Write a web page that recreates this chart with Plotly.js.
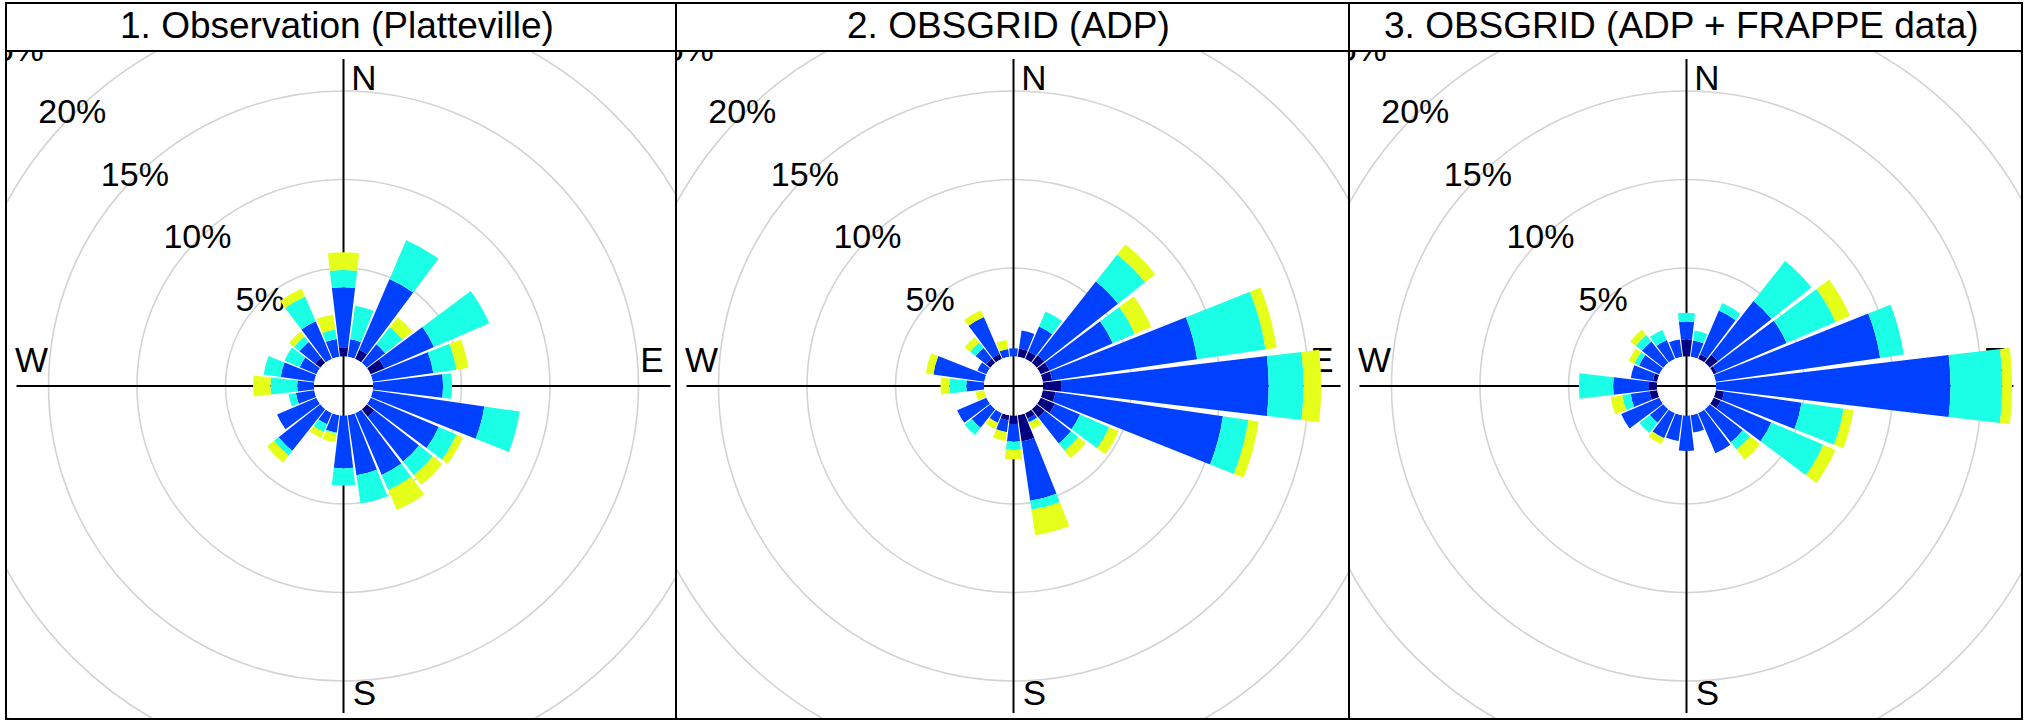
<!DOCTYPE html>
<html>
<head>
<meta charset="utf-8">
<script src="https://cdn.plot.ly/plotly-3.0.1.min.js"></script>
<style>
html,body{margin:0;padding:0;background:#fff;overflow:hidden}
#chart{width:2028px;height:723px}
</style>
</head>
<body>
<div id="chart"></div>
<script>
// ---------------- data ----------------
const DIRECTIONS = [0,15,30,45,60,75,90,105,120,135,150,165,180,195,210,225,240,255,270,285,300,315,330,345];
const PANEL_TITLES = ['1. Observation (Platteville)', '2. OBSGRID (ADP)', '3. OBSGRID (ADP + FRAPPE data)'];
const RING_PERCENTS = [5, 10, 15, 20, 25];
const RING_LABELS = ['5%', '10%', '15%', '20%', '25%'];
const COMPASS_LABELS = ['N', 'E', 'S', 'W'];
const SPEED_CLASS_NAMES = ['class 1', 'class 2', 'class 3', 'class 4'];
const SPEED_COLORS = ['#000080', '#0040ff', '#1affe5', '#e5ff1a'];

// frequency (%) per direction, per speed class
const P1_CLASS1 = [0.50,0,0.57,0,0.85,0,0,0,0,0.54,0,0,0,0,0,0,0,0,0,0,0,0.37,0,0];
const P1_CLASS2 = [3.41,1.00,4.35,1.33,3.05,3.46,3.96,6.37,4.19,3.23,3.80,3.43,2.98,1.00,0.69,3.00,2.42,1.05,0.95,1.92,1.03,1.13,2.31,1.02];
const P1_CLASS3 = [0.98,1.91,2.38,1.25,3.40,1.32,0.51,2.02,1.09,0.98,0.93,1.61,0.98,0.05,0.47,0.34,0,0.42,1.51,0.97,0.93,0.40,1.53,0.54];
const P1_CLASS4 = [1.00,0,0,0.72,0,0.69,0,0,0.40,0.70,1.23,0,0,0.50,0.37,0.51,0,0,0.98,0,0,0.36,0.49,0.86];

const P2_CLASS1 = [0,0.48,0.46,0.54,0.55,0.54,1.03,0.73,0.88,0.60,0.35,1.50,0.48,0.30,0,0,0,0,0,0,0,0.31,0.30,0];
const P2_CLASS2 = [0.46,1.02,1.53,5.31,3.89,8.28,11.72,9.56,1.54,1.87,0.20,3.39,1.00,0.67,0.59,1.34,1.80,0,1.00,2.91,0.55,0.75,2.28,0.45];
const P2_CLASS3 = [0,0,0.92,1.95,1.35,3.90,1.97,1.45,1.80,0.52,0.05,0.50,0.47,0,0,0.51,0,0,0.95,0,0,0.40,0,0];
const P2_CLASS4 = [0,0,0,0.74,1.02,0.64,1.00,0.59,0.59,0.54,0.40,1.46,0.52,0.50,0.38,0,0,0.50,0.51,0.43,0,0.40,0.41,0.51];

const P3_CLASS1 = [0.97,0,0.29,0.59,0.20,0,0,0.48,0.44,0,0,0,0,0,0,0,0,0.44,0.46,0.25,0,0,0,0];
const P3_CLASS2 = [1.00,0.93,2.68,3.86,4.29,9.39,13.25,4.42,3.11,2.38,2.47,0.99,2.00,1.47,1.54,0.97,2.35,1.08,2.02,1.26,1.25,1.54,1.16,0.99];
const P3_CLASS3 = [0.50,0.57,0.46,2.87,3.01,1.35,2.92,2.40,3.20,0.53,0,0,0,0,0,0.75,0,0.48,1.94,0,0.29,0.46,0.62,0];
const P3_CLASS4 = [0,0,0,0,0.89,0,0.56,0.56,0.74,0.73,0,0,0,0,0.37,0,0,0.67,0,0,0.36,0.40,0,0];

const PANEL_DATA = [
  [P1_CLASS1, P1_CLASS2, P1_CLASS3, P1_CLASS4],
  [P2_CLASS1, P2_CLASS2, P2_CLASS3, P2_CLASS4],
  [P3_CLASS1, P3_CLASS2, P3_CLASS3, P3_CLASS4]
];

// ---------------- geometry / style ----------------
const W = 2028, H = 723;
const EDGES = [6, 676, 1349, 2022];
const TOP = 3, TITLE_BOTTOM = 51, BOTTOM = 719, CY = 386;
const HOLE_PX = 29.5, PX_PER_PCT = 17.7, AXIS_PX = 327, POLAR_PX = 336;
const FONT = 'Liberation Sans, Arial, Helvetica, sans-serif';
const BAR_WIDTH_DEG = 13.5;

const ringRadius = p => HOLE_PX + PX_PER_PCT * p;
const compassOffsets = {N: [20.5, 305], E: [308.5, 22.5], S: [21, -310.5], W: [-312, 22.5]};

const data = [];
const shapes = [];
const annotations = [];
const layout = {
  width: W, height: H,
  margin: {l: 0, r: 0, t: 0, b: 0, pad: 0},
  paper_bgcolor: '#ffffff',
  plot_bgcolor: 'rgba(0,0,0,0)',
  showlegend: false,
  font: {family: FONT, color: '#000'}
};

PANEL_DATA.forEach((classes, i) => {
  const n = i + 1;
  const sfx = i === 0 ? '' : String(n);
  const L = EDGES[i], R = EDGES[i + 1];
  const cx = L + 337.5;

  // cartesian frame used for the grid rings, cross lines and labels
  layout['xaxis' + sfx] = {
    domain: [L / W, R / W], range: [L - cx, R - cx], visible: false,
    fixedrange: true, anchor: 'y' + sfx
  };
  layout['yaxis' + sfx] = {
    domain: [(H - BOTTOM) / H, (H - TITLE_BOTTOM) / H], range: [CY - BOTTOM, CY - TITLE_BOTTOM],
    visible: false, fixedrange: true, anchor: 'x' + sfx
  };

  RING_PERCENTS.forEach(p => {
    const r = ringRadius(p);
    shapes.push({type: 'circle', xref: 'x' + sfx, yref: 'y' + sfx, x0: -r, x1: r, y0: -r, y1: r,
      line: {color: '#d3d3d3', width: 1.6}, layer: 'below'});
  });
  shapes.push({type: 'line', xref: 'x' + sfx, yref: 'y' + sfx, x0: -AXIS_PX, x1: AXIS_PX, y0: 0, y1: 0,
    line: {color: '#000', width: 2}, layer: 'below'});
  shapes.push({type: 'line', xref: 'x' + sfx, yref: 'y' + sfx, x0: 0, x1: 0, y0: -AXIS_PX, y1: AXIS_PX,
    line: {color: '#000', width: 2}, layer: 'below'});

  // ring labels along the NW direction
  data.push({
    type: 'scatter', mode: 'text', xaxis: 'x' + sfx, yaxis: 'y' + sfx,
    x: RING_PERCENTS.map(p => -ringRadius(p) * Math.SQRT1_2),
    y: RING_PERCENTS.map(p => ringRadius(p) * Math.SQRT1_2),
    text: RING_LABELS, textposition: 'middle center', cliponaxis: true,
    textfont: {family: FONT, size: 34, color: '#000'}, hoverinfo: 'skip'
  });
  // compass labels
  data.push({
    type: 'scatter', mode: 'text', xaxis: 'x' + sfx, yaxis: 'y' + sfx,
    x: COMPASS_LABELS.map(c => compassOffsets[c][0]),
    y: COMPASS_LABELS.map(c => compassOffsets[c][1]),
    text: COMPASS_LABELS, textposition: 'middle center', cliponaxis: true,
    textfont: {family: FONT, size: 35, color: '#000'}, hoverinfo: 'skip'
  });

  // polar wind rose
  const polarName = 'polar' + sfx;
  layout[polarName] = {
    domain: {x: [(cx - POLAR_PX) / W, (cx + POLAR_PX) / W], y: [(H - CY - POLAR_PX) / H, (H - CY + POLAR_PX) / H]},
    hole: HOLE_PX / POLAR_PX,
    bgcolor: 'rgba(0,0,0,0)',
    barmode: 'stack',
    radialaxis: {range: [0, (POLAR_PX - HOLE_PX) / PX_PER_PCT], visible: false, showgrid: false, showline: false, ticks: ''},
    angularaxis: {rotation: 90, direction: 'clockwise', showgrid: false, showline: false, showticklabels: false, ticks: ''}
  };
  classes.forEach((vals, k) => {
    data.push({
      type: 'barpolar', subplot: polarName, name: SPEED_CLASS_NAMES[k],
      r: vals, theta: DIRECTIONS, width: BAR_WIDTH_DEG,
      marker: {color: SPEED_COLORS[k], line: {width: 0}}, hoverinfo: 'skip'
    });
  });

  // title
  annotations.push({
    xref: 'paper', yref: 'paper', x: ((L + R) / 2 - 4) / W, y: (H - 26) / H,
    xanchor: 'center', yanchor: 'middle', showarrow: false,
    text: PANEL_TITLES[i], font: {family: FONT, size: 37, color: '#000'}
  });

  // title bar bottom line
  shapes.push({type: 'line', xref: 'paper', yref: 'paper', x0: L / W, x1: R / W,
    y0: (H - TITLE_BOTTOM) / H, y1: (H - TITLE_BOTTOM) / H, line: {color: '#000', width: 2}, layer: 'above'});
  // panel frame
  shapes.push({type: 'rect', xref: 'paper', yref: 'paper', x0: L / W, x1: R / W,
    y0: (H - BOTTOM) / H, y1: (H - TOP) / H, line: {color: '#000', width: 2}, fillcolor: 'rgba(0,0,0,0)', layer: 'above'});
});

layout.shapes = shapes;
layout.annotations = annotations;

Plotly.newPlot('chart', data, layout, {displayModeBar: false, staticPlot: true});
</script>
</body>
</html>
